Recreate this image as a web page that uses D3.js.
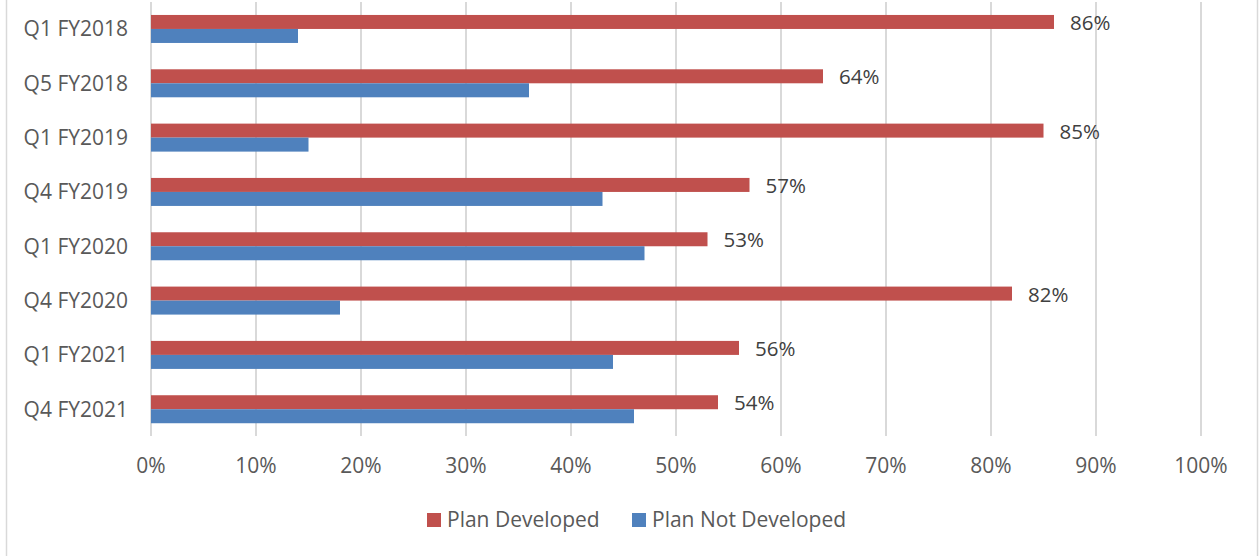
<!DOCTYPE html>
<html><head><meta charset="utf-8">
<script src="https://cdn.jsdelivr.net/npm/d3@7"></script>
<style>body{margin:0;background:#fff;}svg{display:block;}</style>
</head><body>
<svg id="chart" width="1259" height="556"></svg>
<script>
const categories = ["Q1 FY2018","Q5 FY2018","Q1 FY2019","Q4 FY2019","Q1 FY2020","Q4 FY2020","Q1 FY2021","Q4 FY2021"];
const developed = [86,64,85,57,53,82,56,54];
const notDeveloped = [14,36,15,43,47,18,44,46];
const seriesNames = ["Plan Developed","Plan Not Developed"];
const seriesColors = ["#C0504D","#4F81BD"];
const xTicks = [0,10,20,30,40,50,60,70,80,90,100];

const svg = d3.select("#chart");
const font = "'Open Sans', sans-serif";
const fs = 21;
const x = d3.scaleLinear().domain([0,100]).range([151,1201]);
const y = d3.scaleBand().domain(categories).range([1.8,436.4]);
const barH = 14;

// frame
svg.append("line").attr("x1",6.5).attr("x2",6.5).attr("y1",0).attr("y2",556).attr("stroke","#d9d9d9").attr("stroke-width",1.5);
svg.append("line").attr("x1",1257.5).attr("x2",1257.5).attr("y1",0).attr("y2",556).attr("stroke","#d9d9d9").attr("stroke-width",1.5);

// gridlines
svg.append("g").selectAll("line").data(xTicks).join("line")
  .attr("x1",d=>x(d)).attr("x2",d=>x(d)).attr("y1",2).attr("y2",436)
  .attr("stroke","#d9d9d9").attr("stroke-width",2);

// x tick labels
svg.append("g").selectAll("text").data(xTicks).join("text")
  .attr("x",d=>x(d)).attr("y",466).attr("dy","0.35em").attr("text-anchor","middle")
  .attr("font-family",font).attr("font-size",fs).attr("fill","#595959")
  .text(d=>d+"%");

// category labels
svg.append("g").selectAll("text").data(categories).join("text")
  .attr("x",128).attr("y",d=>y(d)+y.bandwidth()/2).attr("dy","0.35em").attr("text-anchor","end")
  .attr("font-family",font).attr("font-size",fs).attr("fill","#595959")
  .text(d=>d);

const rows = categories.map((c,i)=>({c,dev:developed[i],nd:notDeveloped[i]}));
const g = svg.append("g");
g.selectAll("rect.dev").data(rows).join("rect").attr("class","dev")
  .attr("x",x(0)).attr("y",d=>y(d.c)+y.bandwidth()/2-barH)
  .attr("width",d=>x(d.dev)-x(0)).attr("height",barH).attr("fill",seriesColors[0]);
g.selectAll("rect.nd").data(rows).join("rect").attr("class","nd")
  .attr("x",x(0)).attr("y",d=>y(d.c)+y.bandwidth()/2)
  .attr("width",d=>x(d.nd)-x(0)).attr("height",barH).attr("fill",seriesColors[1]);

// data labels
g.selectAll("text.lbl").data(rows).join("text").attr("class","lbl")
  .attr("x",d=>x(d.dev)+16).attr("y",d=>y(d.c)+y.bandwidth()/2-barH/2+1).attr("dy","0.35em")
  .attr("font-family",font).attr("font-size",20.5).attr("fill","#404040")
  .text(d=>d.dev+"%");

// legend
const leg = svg.append("g");
const legX = [427,632];
seriesNames.forEach((n,i)=>{
  leg.append("rect").attr("x",legX[i]).attr("y",513).attr("width",14).attr("height",14).attr("fill",seriesColors[i]);
  leg.append("text").attr("x",legX[i]+20).attr("y",520).attr("dy","0.35em")
    .attr("font-family",font).attr("font-size",fs).attr("fill","#595959").text(n);
});
</script>
</body></html>
